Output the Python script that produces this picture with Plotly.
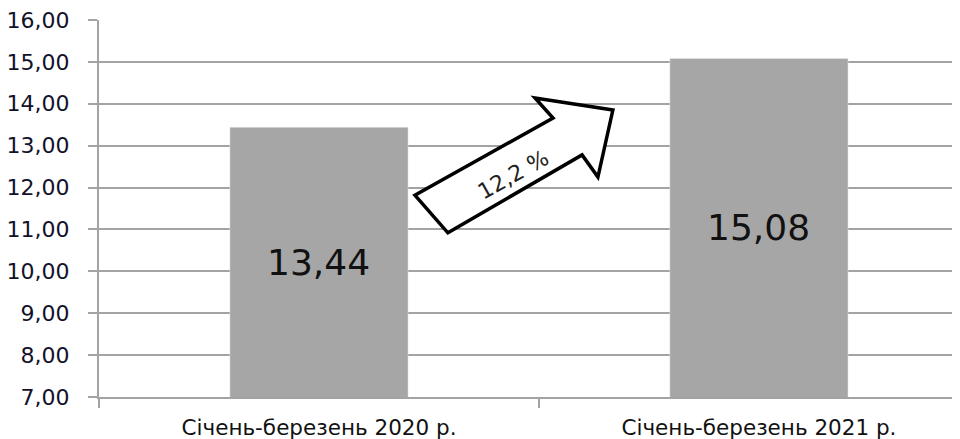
import plotly.graph_objects as go

periods = ['Січень-березень 2020 р.', 'Січень-березень 2021 р.']
values = [13.44, 15.08]
growth_label = '12,2 %'

# arrow outline between the bars (x in category index units, y in data units)
arrow_x = [0.218, 0.293, 0.598, 0.634, 0.668, 0.491, 0.532]
arrow_y = [11.82, 10.92, 12.78, 12.25, 13.85, 14.14, 13.66]

y_min, y_max = 7, 16
grid_color = '#a3a3a3'

fig = go.Figure(go.Bar(
    x=periods,
    y=values,
    width=0.405,
    marker_color='#a6a6a6',
    hoverinfo='skip',
))

# value labels centred on the visible part of each bar
for i, v in enumerate(values):
    fig.add_annotation(
        x=i, y=(y_min + v) / 2, xref='x', yref='y', showarrow=False,
        text=f'{v:.2f}'.replace('.', ','),
        font=dict(size=36, color='#111111', family='DejaVu Sans'),
    )

path = 'M ' + ' L '.join(f'{x},{y}' for x, y in zip(arrow_x, arrow_y)) + ' Z'
fig.add_shape(
    type='path', path=path, xref='x', yref='y',
    fillcolor='white', line=dict(color='black', width=3.5), layer='above',
)
fig.add_annotation(
    x=0.443, y=12.3, xref='x', yref='y', text=growth_label, showarrow=False,
    textangle=-29, font=dict(size=22, color='#222222', family='DejaVu Sans'),
)

# the page body adds an 8px offset, so margins are shifted to compensate
fig.update_layout(
    width=960, height=439,
    margin={'l': 91, 'r': 8, 't': 12, 'b': 50},
    plot_bgcolor='white', paper_bgcolor='white',
    separators=', ',
    showlegend=False,
)
fig.update_yaxes(
    range=[y_min, y_max], dtick=1, tickformat='.2f', automargin=False,
    showgrid=True, gridcolor=grid_color, gridwidth=2,
    showline=True, linecolor=grid_color, linewidth=2,
    ticks='outside', ticklen=9, tickcolor=grid_color, tickwidth=2,
    ticklabelstandoff=14, ticklabeloverflow='allow',
    tickfont=dict(size=22, color='#12122a', family='DejaVu Sans'),
    zeroline=False,
)
fig.update_xaxes(
    range=[-0.5, 1.457], automargin=False,
    showline=True, linecolor=grid_color, linewidth=2,
    ticks='outside', tickson='boundaries', ticklen=9, tickcolor=grid_color, tickwidth=2,
    ticklabelstandoff=10, ticklabeloverflow='allow',
    tickfont=dict(size=21.5, color='#111111', family='DejaVu Sans'),
)

fig.write_html('out.html')
